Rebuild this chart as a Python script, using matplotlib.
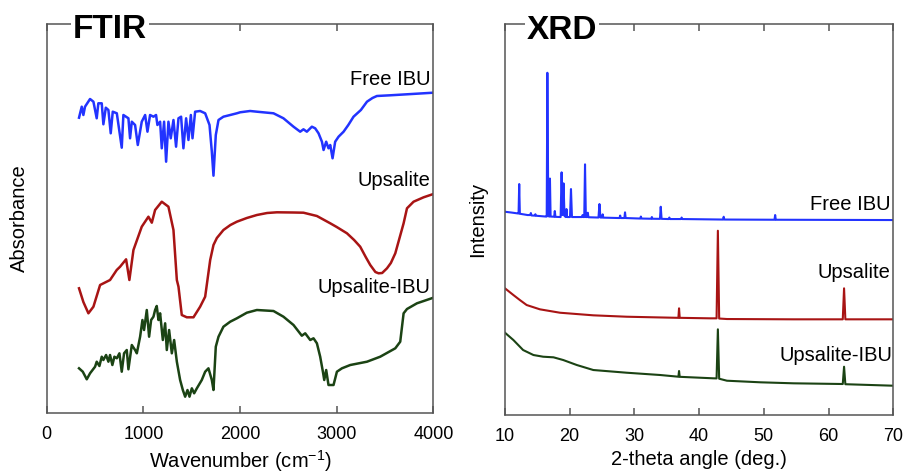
import numpy as np
import matplotlib
matplotlib.use("Agg")
import matplotlib.pyplot as plt

plt.rcParams['font.family'] = ['Liberation Sans', 'DejaVu Sans']
plt.rcParams['mathtext.fontset'] = 'custom'
plt.rcParams['mathtext.rm'] = 'Liberation Sans'
plt.rcParams['mathtext.it'] = 'Liberation Sans:italic'

# ---- FTIR data (wavenumber, absorbance in arbitrary offset units) ----
ftir_ibu_wn = [334, 362, 379, 396, 448, 483, 517, 534, 569, 586, 611, 638, 662, 683, 725, 776, 793,
               845, 862, 880, 914, 942, 983, 1018, 1042, 1069, 1104, 1131, 1145, 1173, 1190, 1214,
               1235, 1259, 1283, 1311, 1338, 1363, 1390, 1414, 1442, 1466, 1491, 1508, 1535, 1587,
               1639, 1684, 1708, 1725, 1749, 1777, 1828, 1898, 1967, 2001, 2104, 2174, 2346, 2449,
               2553, 2622, 2656, 2691, 2743, 2777, 2812, 2847, 2864, 2891, 2915, 2933, 2957, 2984,
               3019, 3071, 3120, 3174, 3250, 3313, 3370, 3416, 3554, 3727, 4000]
ftir_ibu_abs = [295.3, 306.3, 298, 306.3, 314, 311.3, 294.7, 309.7, 309.7, 288.7, 305.3, 303, 279.7,
                301.3, 299.7, 265.3, 298, 294.7, 274.7, 291.3, 288, 268, 291.3, 298, 281.3, 298,
                296.3, 298, 288, 291.3, 264.7, 291.3, 251.3, 291.3, 274.7, 293, 266.3, 294.7, 296.3,
                264.7, 294.7, 273, 298, 274.7, 301.3, 302, 299.7, 288, 261.3, 237.3, 278, 293,
                296.3, 298, 299.7, 300.7, 302, 301.3, 299.7, 294.7, 286.3, 281.3, 283.7, 281.3,
                286.3, 284.7, 279.7, 271.3, 263, 271.3, 264.7, 268, 254.7, 271.3, 276.3, 281.3,
                288, 296.3, 303, 311.3, 315, 317, 317.7, 318.7, 320.3]

ftir_ups_wn = [334, 379, 431, 483, 552, 655, 724, 759, 821, 855, 897, 983, 1052, 1087, 1121, 1190,
               1259, 1311, 1346, 1363, 1397, 1449, 1518, 1587, 1639, 1691, 1725, 1760, 1828, 1900,
               1967, 2070, 2174, 2280, 2381, 2550, 2656, 2795, 2933, 3000, 3106, 3180, 3243, 3300,
               3347, 3400, 3433, 3470, 3520, 3560, 3606, 3692, 3727, 3795, 3899, 4000]
ftir_ups_abs = [124.7, 111, 99.7, 106.3, 128, 133, 143, 146.3, 153.7, 133, 163, 186.3, 196.3, 190.3,
                203, 211.3, 206.3, 183, 133, 126.3, 98, 95.7, 95.7, 106.3, 116.3, 153, 168, 175,
                183, 188, 191.3, 195, 198, 200, 200.7, 200.5, 200.3, 197, 189.7, 186, 179.7, 173,
                166.3, 156, 148, 141, 139.7, 140, 144.7, 150, 159.7, 189.7, 204.7, 211.3, 215.7,
                219]

ftir_mix_wn = [334, 373, 414, 448, 500, 517, 545, 569, 586, 614, 638, 655, 679, 700, 725, 752, 776,
               800, 828, 845, 880, 914, 932, 966, 990, 1007, 1035, 1059, 1080, 1104, 1121, 1138,
               1156, 1173, 1201, 1225, 1242, 1266, 1294, 1318, 1346, 1380, 1408, 1432, 1456, 1477,
               1501, 1525, 1553, 1604, 1639, 1673, 1708, 1725, 1749, 1777, 1828, 1898, 1967, 2070,
               2174, 2346, 2449, 2553, 2639, 2674, 2726, 2760, 2795, 2829, 2857, 2871, 2891, 2915,
               2967, 3002, 3054, 3140, 3313, 3450, 3606, 3657, 3692, 3727, 3830, 4000]
ftir_mix_abs = [44.7, 41.3, 33.7, 39.7, 46.3, 51.3, 47, 56.3, 53, 58, 51.3, 58, 48, 56.3, 54.7,
                59.7, 41.3, 59.7, 63, 43.7, 68, 63, 59.7, 76.3, 93, 83, 103, 76.3, 93, 96.3, 103,
                107, 93, 99.7, 73, 89.7, 63, 83, 59.7, 73, 51.3, 33, 23, 16.3, 23, 16.3, 24.7,
                19.7, 24.7, 33, 41.3, 44.7, 33, 23, 66.3, 76.3, 86.3, 91.3, 94.7, 100.3, 103, 102,
                96.3, 88, 77.3, 79.7, 73, 74.7, 69.7, 56.3, 41.3, 33, 43, 28, 28, 41.3, 44.7, 48,
                51.3, 56.3, 64.7, 71.3, 99.7, 104, 109.7, 115.3]

# ---- XRD data (2-theta, intensity in arbitrary offset units) ----
xrd_ibu_2t = [10.0, 11.0, 12.0, 12.1, 12.2, 12.3, 13.5, 13.9, 14.0, 14.1, 14.6, 14.7, 14.8, 16.3,
              16.45, 16.55, 16.7, 16.85, 16.95, 17.05, 17.6, 17.7, 17.8, 18.6, 18.75, 18.9, 19.05,
              19.2, 19.4, 19.5, 19.6, 20.05, 20.2, 20.35, 21.9, 22.0, 22.1, 22.25, 22.37, 22.5,
              22.7, 22.8, 22.9, 24.45, 24.6, 24.75, 25.0, 25.1, 25.2, 27.7, 27.8, 27.9, 28.45,
              28.55, 28.65, 30.9, 31.0, 31.1, 32.6, 32.7, 32.8, 33.95, 34.07, 34.2, 35.3, 35.4,
              35.5, 37.2, 37.3, 37.4, 43.7, 43.8, 43.9, 51.65, 51.75, 51.85, 70.0]
xrd_ibu_int = [203.3, 202.5, 201.6, 201.5, 231, 201.3, 200, 200, 202, 199.6, 199.4, 200.8, 199.3,
               198.5, 198.5, 342.3, 199, 198.5, 236.5, 198.5, 198.3, 204, 198.2, 198, 242.7, 200,
               231.7, 199, 198, 206, 198, 198, 226, 198, 198, 200, 198, 198, 250.7, 198, 198,
               202.3, 197.8, 197.5, 211, 197.5, 197.5, 200.7, 197.4, 197, 199.5, 197, 197, 202.7,
               197, 196.5, 198.5, 196.5, 196.3, 198, 196.3, 196.2, 208.3, 196.2, 196, 197.5, 196,
               196, 197.5, 196, 195.5, 198.3, 195.5, 195.3, 200, 195.3, 195]

xrd_ups_2t = [10.0, 11.3, 12.3, 13.35, 15.4, 18.5, 23.65, 28.8, 36.0, 36.8, 36.9, 37.0, 41.7, 42.7,
              42.9, 43.1, 44.3, 54.6, 62.2, 62.4, 62.6, 70.0]
xrd_ups_int = [126.7, 120, 115, 110, 105.7, 102.3, 99.7, 98.3, 97.3, 97.2, 106.7, 97.2, 96.7, 96.7,
               184.3, 96.5, 96, 95.7, 95.7, 126.7, 95.7, 95.7]

xrd_mix_2t = [10.0, 11.3, 12.8, 14.4, 15.9, 17.5, 19.0, 21.1, 23.65, 28.8, 34.0, 36.8, 36.9, 37.0,
              42.2, 42.7, 42.9, 43.1, 44.3, 49.5, 54.6, 62.2, 62.4, 62.6, 70.0]
xrd_mix_int = [82.3, 75, 65, 60, 58.3, 57.7, 55, 50, 45, 42.3, 40, 38.3, 44, 38.2, 36.7, 36.6,
               85.7, 36.3, 34.3, 32.7, 31.7, 31, 48.3, 30.8, 29.3]

sample_names = ['Free IBU', 'Upsalite', 'Upsalite-IBU']
colors = ['#2233ff', '#a81414', '#1b4314']

ftir_ticks = [0, 1000, 2000, 3000, 4000]
xrd_ticks = [10, 20, 30, 40, 50, 60, 70]

fig = plt.figure(figsize=(9.04, 4.75), dpi=100)
ax1 = fig.add_axes([0.0517, 0.1305, 0.4277, 0.819])
ax2 = fig.add_axes([0.5586, 0.1263, 0.4295, 0.823])

for ax in (ax1, ax2):
    for s in ax.spines.values():
        s.set_color('#555555')
        s.set_linewidth(1.1)
    ax.set_yticks([])
    ax.tick_params(axis='x', direction='in', top=True, length=5, width=1.1,
                   color='#555555', labelsize=13, pad=9)

# FTIR panel
line_kw = dict(lw=1.8, solid_joinstyle='round')
ax1.plot(ftir_ibu_wn, ftir_ibu_abs, color=colors[0], **line_kw)
ax1.plot(ftir_ups_wn, ftir_ups_abs, color=colors[1], **line_kw)
ax1.plot(ftir_mix_wn, ftir_mix_abs, color=colors[2], **line_kw)
ax1.set_xlim(0, 4000)
ax1.set_ylim(0, 389)
ax1.set_xticks(ftir_ticks)
ax1.set_xlabel('Wavenumber (cm$^{-1}$)', fontsize=14.5, labelpad=4)
ax1.set_ylabel('Absorbance', fontsize=14.5)
ax1.yaxis.set_label_coords(-0.045, 0.5)
ax1.text(3970, 333, sample_names[0], ha='right', va='center', fontsize=14.5)
ax1.text(3970, 232, sample_names[1], ha='right', va='center', fontsize=14.5)
ax1.text(3970, 126, sample_names[2], ha='right', va='center', fontsize=14.5)
ax1.text(0.068, 0.963, 'FTIR', transform=ax1.transAxes, fontsize=24, fontweight='bold',
         ha='left', va='baseline',
         bbox=dict(facecolor='white', edgecolor='none', pad=1.5))

# XRD panel
ax2.plot(xrd_ibu_2t, xrd_ibu_int, color=colors[0], lw=1.5)
ax2.plot(xrd_ups_2t, xrd_ups_int, color=colors[1], lw=1.5)
ax2.plot(xrd_mix_2t, xrd_mix_int, color=colors[2], lw=1.5)
ax2.set_xlim(10, 70)
ax2.set_ylim(0, 391)
ax2.set_xticks(xrd_ticks)
ax2.set_xlabel('2-theta angle (deg.)', fontsize=14.5, labelpad=4)
ax2.set_ylabel('Intensity', fontsize=14.5)
ax2.yaxis.set_label_coords(-0.045, 0.5)
ax2.text(69.6, 211, sample_names[0], ha='right', va='center', fontsize=14.5)
ax2.text(69.6, 143, sample_names[1], ha='right', va='center', fontsize=14.5)
ax2.text(69.8, 60, sample_names[2], ha='right', va='center', fontsize=14.5)
ax2.text(0.056, 0.963, 'XRD', transform=ax2.transAxes, fontsize=24, fontweight='bold',
         ha='left', va='baseline',
         bbox=dict(facecolor='white', edgecolor='none', pad=1.5))

fig.savefig('out.png', dpi=100)
